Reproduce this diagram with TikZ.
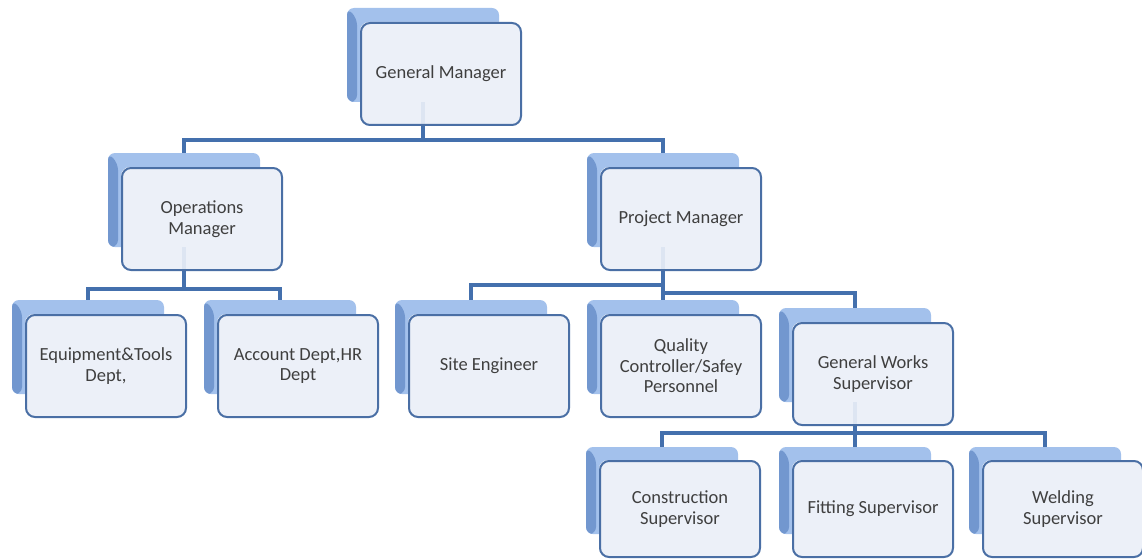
\documentclass[tikz,border=0pt]{standalone}
\usepackage{fontspec}
\setmainfont{Carlito}
\usetikzlibrary{positioning}
\usetikzlibrary{calc}
\pgfdeclarelayer{background}
\pgfsetlayers{background,main}

\definecolor{boxline}{HTML}{4A6FA5}
\definecolor{boxfill}{HTML}{EBEFF8}
\definecolor{backlight}{HTML}{A3C1EC}
\definecolor{backdark}{HTML}{7297CF}
\definecolor{linkcolor}{HTML}{4470AD}
\definecolor{labelcolor}{HTML}{3F3F3F}

\begin{document}
\begin{tikzpicture}
			[
				x = 1pt, y = -1pt,
				myblock/.style = {draw = boxline, line width = 2pt, rectangle, rounded corners = 9pt, fill = boxfill, fill opacity = 0.92, text opacity = 1, minimum width = 160pt, minimum height = 102pt, align = center, text = labelcolor, font = \fontsize{18.5}{20.5}\selectfont},
				lowblock/.style = {myblock, minimum height = 96pt},
				myback/.style = {rectangle, rounded corners = 7pt, fill = backlight, minimum width = 152pt, minimum height = 94pt,
					path picture = {\fill [backdark] (path picture bounding box.north west) -- ([shift = {(10pt,-10pt)}]path picture bounding box.north west) -- ([xshift = 10pt]path picture bounding box.south west) -- (path picture bounding box.south west) -- cycle;}},
				lowback/.style = {myback, minimum height = 87pt},
				myarrow/.style = {draw = linkcolor, line width = 4pt}
			]
			\useasboundingbox (0,0) rectangle (1142,559);
			%
			\node (gm) [myblock] at (441,74) {General Manager};
			%
			\node (ops) [myblock] at (202,219) {Operations\\Manager};
			\node (pm) [myblock] at (681,219) {Project Manager};
			%
			\node (equip) [myblock] at (106,366) {Equipment\&Tools\\Dept,};
			\node (account) [myblock] at (298,366) {Account Dept,HR\\Dept};
			\node (site) [myblock] at (489,366) {Site Engineer};
			\node (quality) [myblock] at (681,366) {Quality\\Controller/Safey\\Personnel};
			\node (works) [myblock] at (873,374) {General Works\\Supervisor};
			%
			\node (construct) [lowblock] at (680,509) {Construction\\Supervisor};
			\node (fitting) [lowblock] at (873,509) {Fitting Supervisor};
			\node (welding) [lowblock] at (1063,509) {Welding\\Supervisor};
			%
			\begin{pgfonlayer}{background}
				\node (gmback) [myback] at ([shift = {(-18,-19)}]gm.center) {};
				\node (opsback) [myback] at ([shift = {(-18,-19)}]ops.center) {};
				\node (pmback) [myback] at ([shift = {(-18,-19)}]pm.center) {};
				\node (equipback) [myback] at ([shift = {(-18,-19)}]equip.center) {};
				\node (accountback) [myback] at ([shift = {(-18,-19)}]account.center) {};
				\node (siteback) [myback] at ([shift = {(-18,-19)}]site.center) {};
				\node (qualityback) [myback] at ([shift = {(-18,-19)}]quality.center) {};
				\node (worksback) [myback] at ([shift = {(-18,-19)}]works.center) {};
				\node (constructback) [lowback] at ([shift = {(-18,-18.5)}]construct.center) {};
				\node (fittingback) [lowback] at ([shift = {(-18,-18.5)}]fitting.center) {};
				\node (weldingback) [lowback] at ([shift = {(-18,-18.5)}]welding.center) {};
				% white under each front box, so the back box does not show through
				\foreach \name in {gm, ops, pm, equip, account, site, quality, works, construct, fitting, welding}
					\fill [white, rounded corners = 9pt] (\name.north west) rectangle (\name.south east);
				%
				\coordinate (gmjoint) at (gmback.south |- 0,140);
				\draw [myarrow] (gmback.south) -- (gmjoint) -| (opsback.north);
				\draw [myarrow] (gmjoint) -| (pmback.north);
				%
				\coordinate (opsjoint) at (opsback.south |- 0,289);
				\draw [myarrow] (opsback.south) -- (opsjoint) -| (equipback.north);
				\draw [myarrow] (opsjoint) -| (accountback.north);
				%
				\coordinate (pmjoint) at (pmback.south |- 0,285);
				\coordinate (pmlowjoint) at (pmback.south |- 0,293);
				\draw [myarrow] (pmback.south) -- (qualityback.north);
				\draw [myarrow] (pmjoint) -| (siteback.north);
				\draw [myarrow] (pmlowjoint) -| (worksback.north);
				%
				\coordinate (worksjoint) at (worksback.south |- 0,433);
				\draw [myarrow] (worksback.south) -- (worksjoint) -| (constructback.north);
				\draw [myarrow] (worksjoint) -| (fittingback.north);
				\draw [myarrow] (worksjoint) -| (weldingback.north);
			\end{pgfonlayer}
			%
		\end{tikzpicture}
\end{document}
